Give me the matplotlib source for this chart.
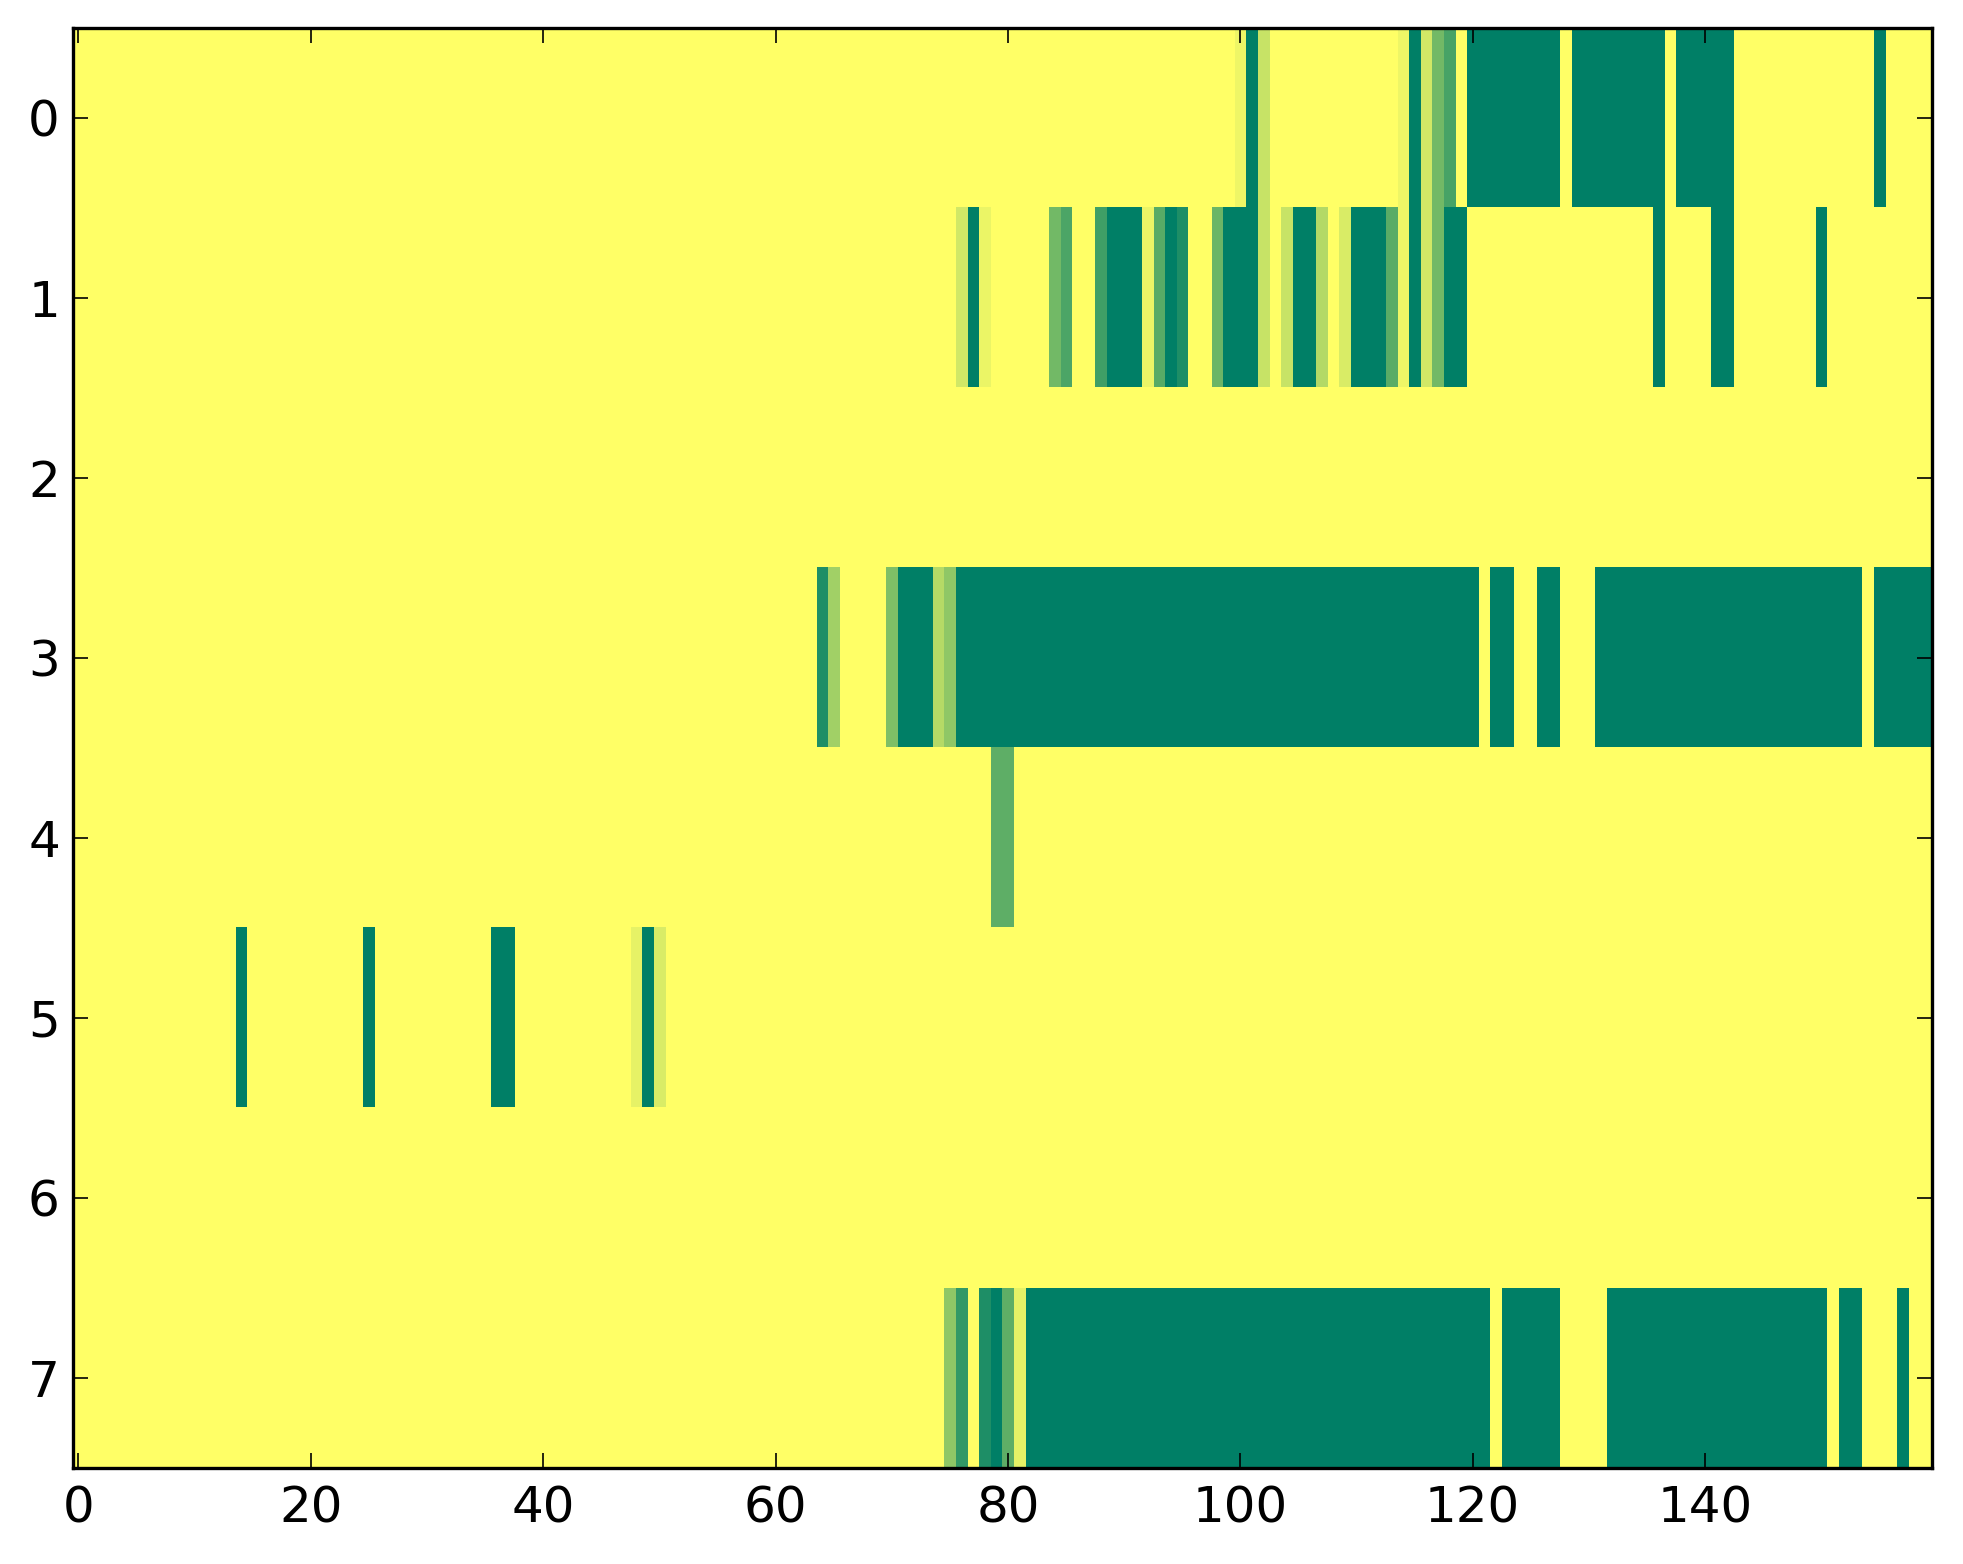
import numpy as np
import matplotlib
matplotlib.use("Agg")
import matplotlib.pyplot as plt

N_ROWS = 8
N_COLS = 160

# runs per row: (first column, last column, value)
row0 = [(100, 100, 0.07), (101, 101, 1.0), (102, 102, 0.22),
        (114, 114, 0.07), (115, 115, 1.0), (116, 116, 0.18), (117, 117, 0.55),
        (118, 118, 0.72), (120, 127, 1.0), (129, 136, 1.0), (138, 142, 1.0),
        (155, 155, 1.0)]
row1 = [(76, 76, 0.18), (77, 77, 1.0), (78, 78, 0.08), (84, 84, 0.55),
        (85, 85, 0.7), (88, 88, 0.75), (89, 91, 1.0), (92, 92, 0.08),
        (93, 93, 0.66), (94, 94, 1.0), (95, 95, 0.88), (98, 98, 0.58),
        (99, 101, 1.0), (102, 102, 0.22), (104, 104, 0.22), (105, 106, 1.0),
        (107, 107, 0.3), (109, 109, 0.15), (110, 112, 1.0), (113, 113, 0.65),
        (114, 114, 0.07), (115, 115, 1.0), (116, 116, 0.18), (117, 117, 0.55),
        (118, 119, 1.0), (136, 136, 1.0), (141, 142, 1.0), (150, 150, 1.0)]
row2 = []
row3 = [(64, 64, 0.88), (65, 65, 0.37), (70, 70, 0.5), (71, 73, 1.0),
        (74, 74, 0.29), (75, 75, 0.44), (76, 120, 1.0), (122, 123, 1.0),
        (126, 127, 1.0), (131, 153, 1.0), (155, 159, 1.0)]
row4 = [(79, 80, 0.63)]
row5 = [(14, 14, 1.0), (25, 25, 1.0), (36, 37, 1.0), (48, 48, 0.1),
        (49, 49, 1.0), (50, 50, 0.15)]
row6 = []
row7 = [(75, 75, 0.44), (76, 76, 0.8), (78, 78, 0.88), (79, 79, 1.0),
        (80, 80, 0.63), (81, 81, 0.1), (82, 121, 1.0), (123, 127, 1.0),
        (132, 150, 1.0), (152, 153, 1.0), (157, 157, 1.0)]

rows = [row0, row1, row2, row3, row4, row5, row6, row7]

grid = np.zeros((N_ROWS, N_COLS))
for r, runs in enumerate(rows):
    for a, b, v in runs:
        grid[r, a:b + 1] = v

plt.rcParams['font.family'] = ['DejaVu Sans']
fig = plt.figure(figsize=(9.815, 7.82), dpi=200)
ax = fig.add_axes([0.037, 0.0614, 0.947, 0.9209])
ax.imshow(grid, cmap='summer_r', vmin=0, vmax=1, aspect='auto',
          interpolation='nearest')

ax.set_xticks(np.arange(0, 141, 20))
ax.set_yticks(np.arange(0, 8))
ax.tick_params(direction='in', top=True, right=True, length=5.4, width=0.6,
               labelsize=18)
ax.tick_params(axis='x', pad=6)
ax.tick_params(axis='y', pad=4.6)
for s in ax.spines.values():
    s.set_linewidth(1.2)

fig.savefig("out.png", dpi=200)
